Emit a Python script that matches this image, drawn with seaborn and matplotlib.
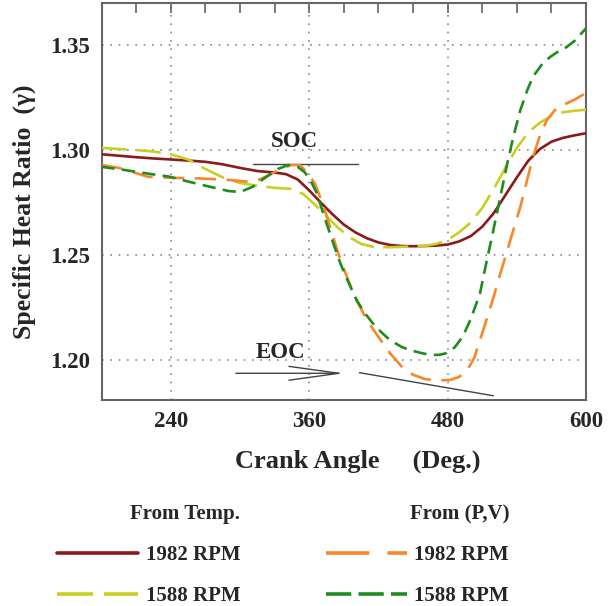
import numpy as np
import pandas as pd
import seaborn as sns
import matplotlib.pyplot as plt
from matplotlib.lines import Line2D
from matplotlib.ticker import MultipleLocator, FixedLocator

# Specific heat ratio vs crank angle, two speeds, two estimation methods
temp_1982_angle = [180, 195, 210, 225, 240, 255, 270, 285, 300, 315, 330, 340, 350, 360,
                   370, 380, 390, 400, 410, 420, 430, 440, 450, 460, 470, 480, 490, 500,
                   510, 520, 530, 540, 550, 560, 570, 580, 590, 600]
temp_1982_gamma = [1.2980, 1.2973, 1.2966, 1.2960, 1.2955, 1.2950, 1.2944, 1.2932, 1.2915,
                   1.2900, 1.2893, 1.2885, 1.2860, 1.2808, 1.2750, 1.2695, 1.2645, 1.2608,
                   1.2580, 1.2560, 1.2548, 1.2543, 1.2542, 1.2543, 1.2545, 1.2550, 1.2565,
                   1.2590, 1.2635, 1.2700, 1.2785, 1.2870, 1.2950, 1.3005, 1.3040, 1.3058,
                   1.3070, 1.3080]

temp_1588_angle = [180, 195, 210, 225, 240, 255, 270, 285, 300, 315, 330, 345, 355, 365,
                   375, 385, 395, 405, 415, 430, 445, 460, 470, 480, 490, 500, 510, 520,
                   530, 540, 550, 560, 570, 580, 590, 600]
temp_1588_gamma = [1.3010, 1.3005, 1.3000, 1.2993, 1.2980, 1.2955, 1.2910, 1.2870, 1.2843,
                   1.2830, 1.2820, 1.2815, 1.2790, 1.2740, 1.2685, 1.2630, 1.2585, 1.2553,
                   1.2540, 1.2537, 1.2540, 1.2543, 1.2553, 1.2572, 1.2608, 1.2655, 1.2725,
                   1.2815, 1.2915, 1.3010, 1.3085, 1.3130, 1.3163, 1.3180, 1.3187, 1.3192]

pv_1982_angle = [180, 195, 210, 220, 240, 265, 290, 305, 315, 325, 335, 345, 352, 358,
                 365, 372, 380, 387, 395, 401, 410, 420, 430, 440, 450, 460, 470, 482,
                 490, 497, 503, 508, 513, 519, 525, 531, 537, 543, 549, 554, 560, 566,
                 573, 580, 590, 600]
pv_1982_gamma = [1.2929, 1.2915, 1.2890, 1.2873, 1.2868, 1.2865, 1.2858, 1.2850, 1.2855,
                 1.2880, 1.2910, 1.2929, 1.2928, 1.2895, 1.2840, 1.2740, 1.2600, 1.2476,
                 1.2365, 1.2286, 1.2190, 1.2110, 1.2033, 1.1970, 1.1930, 1.1910, 1.1903,
                 1.1905, 1.1920, 1.1952, 1.2010, 1.2095, 1.2180, 1.2286, 1.2400, 1.2510,
                 1.2620, 1.2730, 1.2860, 1.2968, 1.3070, 1.3143, 1.3190, 1.3214, 1.3240,
                 1.3272]

pv_1588_angle = [180, 200, 220, 239, 255, 274, 290, 300, 311, 323, 333, 342, 350, 356,
                 361, 367, 372, 380, 387, 394, 401, 408, 415, 422, 430, 440, 447, 456,
                 465, 473, 479, 486, 493, 500, 508, 513, 519, 525, 531, 537, 543, 549,
                 554, 562, 569, 576, 583, 590, 600]
pv_1588_gamma = [1.2920, 1.2905, 1.2888, 1.2873, 1.2850, 1.2825, 1.2805, 1.2800, 1.2825,
                 1.2873, 1.2910, 1.2929, 1.2920, 1.2895, 1.2857, 1.2790, 1.2700, 1.2570,
                 1.2460, 1.2370, 1.2286, 1.2225, 1.2176, 1.2135, 1.2095, 1.2063, 1.2048,
                 1.2035, 1.2024, 1.2025, 1.2033, 1.2060, 1.2111, 1.2195, 1.2317, 1.2450,
                 1.2603, 1.2760, 1.2920, 1.3065, 1.3190, 1.3285, 1.3350, 1.3410, 1.3444,
                 1.3470, 1.3490, 1.3520, 1.3580]

legend_groups = ["From Temp.", "From (P,V)"]
legend_labels = ["1982 RPM", "1588 RPM"]
x_ticks = [240, 360, 480, 600]
y_ticks = [1.20, 1.25, 1.30, 1.35]

sns.set_theme(style="white")
plt.rcParams["font.family"] = ["Liberation Serif", "DejaVu Serif"]
plt.rcParams["font.weight"] = "bold"

RED = "#8b1a1a"
YEL = "#c9cf22"
ORA = "#f7872a"
GRN = "#1e8c1e"
LW = 1.9

fig = plt.figure(figsize=(6.08, 6.06), dpi=100)
ax = fig.add_axes([0.167, 0.340, 0.797, 0.655])

series = [
    (temp_1982_angle, temp_1982_gamma, RED, "-"),
    (temp_1588_angle, temp_1588_gamma, YEL, (0, (9.5, 3.5))),
    (pv_1982_angle, pv_1982_gamma, ORA, (0, (8, 4))),
    (pv_1588_angle, pv_1588_gamma, GRN, (0, (5, 2.8))),
]
for xa, ya, col, ls in series:
    sns.lineplot(x=xa, y=ya, ax=ax, color=col, linewidth=LW, linestyle=ls, zorder=3)

ax.set_xlim(180, 600)
ax.set_ylim(1.181, 1.370)
ax.xaxis.set_major_locator(FixedLocator(x_ticks))
ax.xaxis.set_minor_locator(MultipleLocator(30))
ax.yaxis.set_major_locator(FixedLocator(y_ticks))
ax.yaxis.set_minor_locator(MultipleLocator(0.01))
ax.set_xticklabels([str(v) for v in x_ticks])
ax.set_yticklabels([f"{v:.2f}" for v in y_ticks])
ax.tick_params(which="both", direction="in", top=True, right=False, length=7,
               width=1.1, color="#555555", labelsize=16.5, pad=8)
for lab in ax.get_xticklabels() + ax.get_yticklabels():
    lab.set_fontweight("bold")

ax.grid(True, which="major", linestyle=(0, (1, 4)), color="#888888", linewidth=1.2)
for sp in ax.spines.values():
    sp.set_color("#666666")
    sp.set_linewidth(1.5)

ax.set_xlabel("Crank Angle     (Deg.)", fontsize=19, fontweight="bold")
ax.xaxis.set_label_coords(0.529, -0.125)
ax.set_ylabel("Specific Heat Ratio  (\u03b3)", fontsize=18.5, fontweight="bold")
ax.yaxis.set_label_coords(-0.135, 0.475)

# start / end of combustion markers
ax.text(347, 1.3043, "SOC", ha="center", va="center", fontsize=16.5, fontweight="bold")
ax.plot([311, 402], [1.2932, 1.2932], color="#444444", linewidth=1.0, zorder=2)
ax.text(335, 1.2035, "EOC", ha="center", va="center", fontsize=16.5, fontweight="bold")
ax.annotate("", xy=(392.5, 1.1937), xytext=(294, 1.1937),
            arrowprops=dict(arrowstyle="->,head_length=3.6,head_width=0.5",
                            color="#444444", linewidth=1.0, mutation_scale=10))
ax.plot([403.5, 519.6], [1.1940, 1.1830], color="#444444", linewidth=1.0, zorder=2)

# grouped legends below the axes
h_temp = [Line2D([], [], color=RED, linewidth=2.6),
          Line2D([], [], color=YEL, linewidth=2.6, linestyle=(0, (10, 3)))]
h_pv = [Line2D([], [], color=ORA, linewidth=2.6, linestyle=(0, (12, 5))),
        Line2D([], [], color=GRN, linewidth=2.6, linestyle=(0, (7, 2)))]
common = dict(frameon=False, fontsize=15, title_fontsize=15, alignment="right",
              handlelength=3.9, handletextpad=0.35, labelspacing=1.0,
              borderpad=0.2, loc="upper left")
leg1 = fig.legend(h_temp, legend_labels, title=legend_groups[0],
                  bbox_to_anchor=(0.070, 0.192), **common)
leg2 = fig.legend(h_pv, legend_labels, title=legend_groups[1],
                  bbox_to_anchor=(0.512, 0.192), **common)
for leg in (leg1, leg2):
    leg.get_title().set_fontweight("bold")
    for t in leg.get_texts():
        t.set_fontweight("bold")

fig.savefig("out.png", dpi=100)
